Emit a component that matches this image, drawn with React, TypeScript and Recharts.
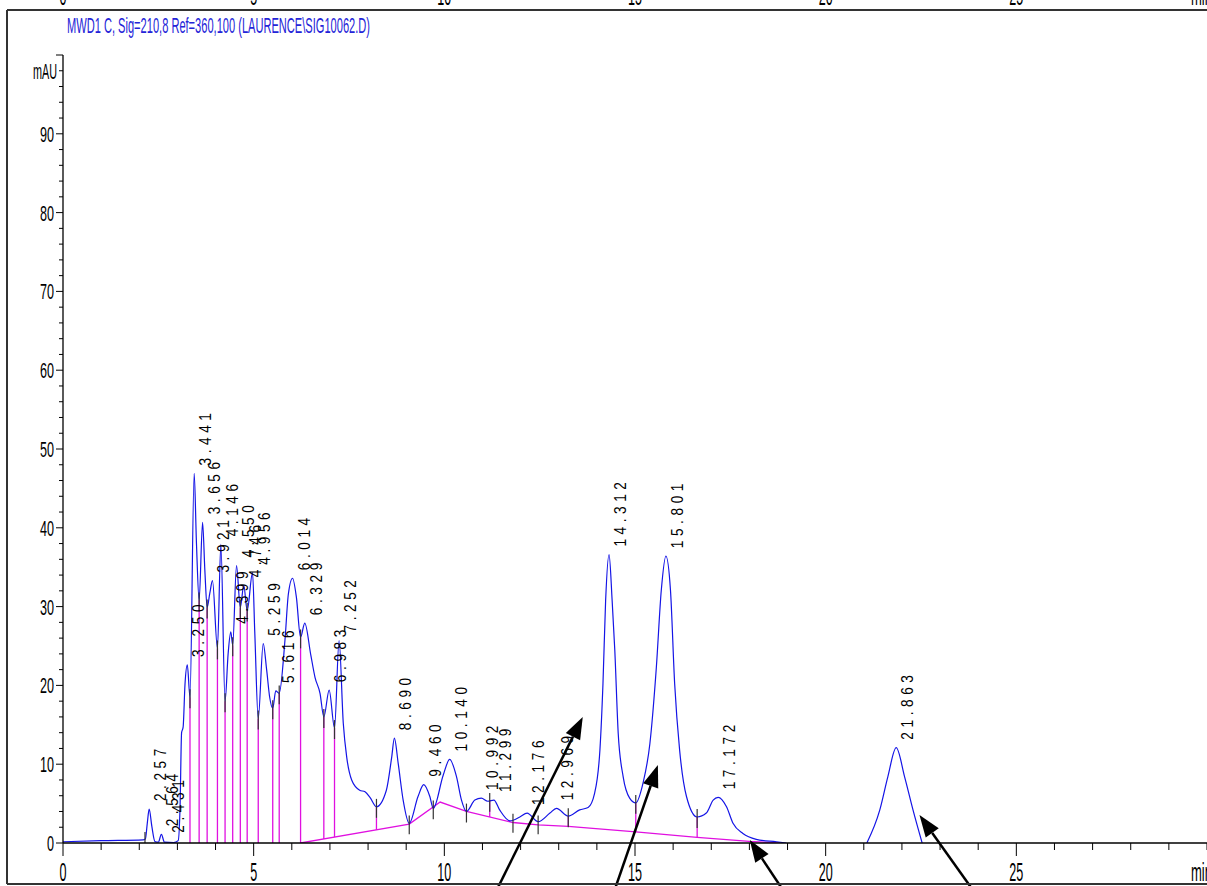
import React from "react";
import {
  ComposedChart,
  Line,
  Scatter,
  XAxis,
  YAxis,
  ReferenceLine,
} from "recharts";

// retention time (min) and detector signal (mAU)
const TIME = [
  0, 1.0, 2.1, 2.16, 2.21, 2.26, 2.33, 2.41, 2.5, 2.58, 2.66, 2.9, 3.02, 3.07,
  3.11, 3.15, 3.2, 3.26, 3.33, 3.44, 3.5, 3.57, 3.66, 3.72, 3.78, 3.85, 3.92,
  4.05, 4.14, 4.25, 4.33, 4.4, 4.45, 4.55, 4.65, 4.74, 4.83, 4.97, 5.03, 5.12,
  5.25, 5.34, 5.42, 5.5, 5.58, 5.67, 5.82, 5.91, 6.02, 6.12, 6.23, 6.34, 6.5,
  6.61, 6.74, 6.84, 6.98, 7.12, 7.24, 7.35, 7.44, 7.57, 7.78, 7.92, 8.05, 8.22,
  8.48, 8.62, 8.69, 8.79, 8.92, 9.08, 9.31, 9.46, 9.62, 9.71, 9.97, 10.14,
  10.32, 10.45, 10.58, 10.8, 10.97, 11.14, 11.3, 11.45, 11.72, 11.98, 12.17,
  12.46, 12.77, 12.94, 13.25, 13.55, 13.77, 13.94, 14.08, 14.16, 14.23, 14.32,
  14.4, 14.47, 14.56, 14.69, 14.86, 15.02, 15.21, 15.39, 15.56, 15.69, 15.81,
  15.93, 16.04, 16.17, 16.35, 16.63, 16.87, 17.05, 17.18, 17.4, 17.57, 17.83,
  18.18, 18.71, 18.97, 20.0, 21.08, 21.42, 21.63, 21.85, 22.07, 22.29, 22.53,
];
const SIGNAL = [
  0.16, 0.3, 0.4, 0.5, 2.5, 4.3, 2.1, 0.2, 0.1, 1.1, 0.1, 0.05, 0.3, 4.6,
  14.0, 14.7, 20.2, 22.6, 18.5, 46.9, 38.0, 30.8, 40.7, 34.6, 29.9, 31.7, 33.3,
  24.7, 37.9, 18.0, 24.0, 26.8, 25.1, 35.2, 29.9, 32.7, 29.5, 34.3, 26.6, 15.8,
  25.3, 22.0, 18.5, 17.1, 19.3, 19.0, 25.7, 31.6, 33.6, 31.2, 26.1, 27.9, 23.8,
  21.0, 19.0, 16.0, 19.4, 14.6, 25.7, 15.2, 10.9, 8.0, 6.7, 6.5, 5.8, 4.6,
  6.7, 10.9, 13.3, 10.1, 5.45, 2.5, 5.9, 7.4, 5.9, 4.4, 8.6, 10.6,
  8.4, 5.45, 4.0, 5.45, 5.7, 5.3, 5.45, 4.2, 2.8, 3.3, 3.8,
  2.7, 3.8, 4.4, 3.4, 4.2, 4.5, 6.3, 11.8, 20.2, 30.8, 36.6,
  30.8, 24.5, 13.9, 8.4, 5.7, 5.1, 7.6, 12.6, 22.3, 32.1, 36.4,
  32.1, 20.2, 11.8, 5.9, 3.3, 3.8, 5.45, 5.8, 4.6, 2.5, 1.2,
  0.47, 0.16, 0, null, 0, 4.2, 8.4, 12.1, 8.4, 4.2, 0,
];

// integrated peaks: retention time, apex height, printed label
const PEAK_TIMES = [
  2.26, 2.58, 2.73, 3.26, 3.44, 3.66, 3.92, 4.14, 4.4, 4.55, 4.74, 4.97, 5.25,
  5.6, 6.02, 6.34, 6.98, 7.24, 8.69, 9.46, 10.14, 10.97, 11.3, 12.17, 12.94,
  14.32, 15.81, 17.18, 21.85,
];
const PEAK_HEIGHTS = [
  4.3, 1.1, 0.3, 22.6, 46.9, 40.7, 33.3, 37.9, 26.8, 35.2, 32.7, 34.3, 25.3,
  19.3, 33.6, 27.9, 19.4, 25.7, 13.3, 7.4, 10.6, 5.7, 5.45, 3.8, 4.4,
  36.6, 36.4, 5.8, 12.1,
];
const PEAK_NAMES = [
  "2.257", "2.564", "2.431", "3.250", "3.441", "3.656", "3.921", "4.146",
  "4.399", "4.550", "4.746", "4.956", "5.259", "5.616", "6.014", "6.329",
  "6.983", "7.252", "8.690", "9.460", "10.140", "10.992", "11.299", "12.176",
  "12.969", "14.312", "15.801", "17.172", "21.863",
];

// integration baseline
const BASE_TIMES = [6.23, 9.08, 9.89, 10.58, 11.8, 12.46, 13.25, 15.02, 16.63, 18.0, 18.8];
const BASE_VALUES = [0, 2.4, 5.2, 4.0, 2.6, 2.3, 2.1, 1.4, 0.72, 0.2, 0];

// drop lines between peaks
const DROP_TIMES = [3.33, 3.57, 3.78, 4.05, 4.25, 4.45, 4.65, 4.83, 5.12, 5.5, 5.67, 6.23, 6.84, 7.12, 8.22, 11.19, 13.25, 15.02, 16.63];
const DROP_TOPS = [18.5, 30.8, 29.9, 24.7, 18.0, 25.1, 29.9, 29.5, 15.8, 17.1, 19.0, 26.1, 16.0, 14.6, 4.6, 5.35, 3.4, 5.1, 3.3];
const DROP_BASES = [0, 0, 0, 0, 0, 0, 0, 0, 0, 0, 0, 0, 0.51, 0.75, 1.67, 3.3, 2.1, 1.4, 0.72];

// peak start / end event marks
const MARK_TIMES = [2.15, ...DROP_TIMES, 9.08, 9.71, 10.58, 11.8, 12.46];
const MARK_VALUES = [0.4, ...DROP_TOPS, 2.5, 4.4, 4.0, 2.7, 2.5];

// hand drawn arrows (tail -> head)
const ARROW_FROM_T = [11.38, 14.47, 18.87, 23.85];
const ARROW_FROM_V = [-5.9, -5.9, -5.9, -5.9];
const ARROW_TO_T = [13.63, 15.6, 18.01, 22.46];
const ARROW_TO_V = [16.0, 9.9, 0.38, 3.55];

// axis labels of the chart above, cut off by the page top
const TOP_LABEL_TIMES = [0, 5, 10, 15, 20, 25, 30];

const X_TICKS = Array.from({ length: 31 }, (_, i) => i);
const Y_TICKS = Array.from({ length: 51 }, (_, i) => i * 2);

const signalData = TIME.map((t, i) => ({ t, v: SIGNAL[i] }));
const baseData = BASE_TIMES.map((t, i) => ({ t, v: BASE_VALUES[i] }));
const labelData = PEAK_TIMES.map((t, i) => ({ t, v: PEAK_HEIGHTS[i], name: PEAK_NAMES[i] }));

const FONT = "'Liberation Sans', Arial, sans-serif";
const BLUE = "#1414e6";
const MAGENTA = "#e010e0";

const PLOT_LEFT = 63;
const PLOT_WIDTH = 1144;

const YTick = (props: any) => {
  const { x, y, payload } = props;
  const v = payload.value;
  const major = v % 10 === 0;
  const s = String(v);
  const len = s.length * 7;
  return (
    <g>
      <line x1={x - (major ? 7 : 4)} x2={x} y1={y} y2={y} stroke="#000" />
      {major && v < 100 && (
        <text x={x - 9 - len} y={y + 8} fontSize={22} fontFamily={FONT} textLength={len} lengthAdjust="spacingAndGlyphs" fill="#000">
          {s}
        </text>
      )}
      {v === 98 && (
        <text x={x - 30} y={y + 8} fontSize={22} fontFamily={FONT} textLength={24} lengthAdjust="spacingAndGlyphs" fill="#000">
          mAU
        </text>
      )}
    </g>
  );
};

const XTick = (props: any) => {
  const { x, y, payload } = props;
  const v = payload.value;
  const major = v % 5 === 0 && v < 30;
  const s = String(v);
  const len = s.length * 7;
  return (
    <g>
      <line x1={x} x2={x} y1={y} y2={y + (major ? 13 : 7)} stroke="#000" />
      {major && (
        <text x={x - len / 2} y={y + 38} fontSize={25} fontFamily={FONT} textLength={len} lengthAdjust="spacingAndGlyphs" fill="#000">
          {s}
        </text>
      )}
      {v === 30 && (
        <text x={x - 16} y={y + 38} fontSize={25} fontFamily={FONT} textLength={21} lengthAdjust="spacingAndGlyphs" fill="#000">
          min
        </text>
      )}
    </g>
  );
};

const PeakLabel = (props: any) => {
  const { cx, cy, payload } = props;
  return (
    <text
      transform={`translate(${cx + 17},${cy - 8}) rotate(-90) scale(0.85,1)`}
      fontSize={16}
      fontFamily={FONT}
      letterSpacing={5.4}
      fill="#000"
    >
      {payload.name}
    </text>
  );
};

const Arrow = (p: any) => {
  const { x1, y1, x2, y2 } = p;
  const a = Math.atan2(y2 - y1, x2 - x1);
  const L = 22;
  const W = 8;
  const bx = x2 - L * Math.cos(a);
  const by = y2 - L * Math.sin(a);
  const px = -Math.sin(a) * W;
  const py = Math.cos(a) * W;
  return (
    <g>
      <line x1={x1} y1={y1} x2={bx} y2={by} stroke="#000" strokeWidth={2.5} />
      <polygon points={`${x2},${y2} ${bx + px},${by + py} ${bx - px},${by - py}`} fill="#000" />
    </g>
  );
};

export default function App() {
  return (
    <div style={{ position: "fixed", left: 0, top: 0, width: 1207, height: 886, background: "#fff", overflow: "hidden" }}>
      <ComposedChart width={1207} height={886} margin={{ top: 55, right: 0, bottom: 0, left: 0 }}>
        <XAxis
          type="number"
          dataKey="t"
          domain={[0, 30]}
          ticks={X_TICKS}
          interval={0}
          height={43}
          tickSize={0}
          tickMargin={0}
          tickLine={false}
          tick={<XTick />}
          axisLine={{ stroke: "#000", strokeWidth: 1.3 }}
          allowDataOverflow
        />
        <YAxis
          type="number"
          domain={[0, 100]}
          ticks={Y_TICKS}
          interval={0}
          width={63}
          tickSize={0}
          tickMargin={0}
          tickLine={false}
          tick={<YTick />}
          axisLine={{ stroke: "#000", strokeWidth: 1.3 }}
          allowDataOverflow
        />

        <Line data={baseData} dataKey="v" type="linear" stroke={MAGENTA} strokeWidth={1.3} dot={false} isAnimationActive={false} />

        {DROP_TIMES.map((t, i) => (
          <ReferenceLine
            key={"d" + i}
            segment={[{ x: t, y: DROP_BASES[i] }, { x: t, y: DROP_TOPS[i] }]}
            stroke={MAGENTA}
            strokeWidth={1.3}
            ifOverflow="visible"
          />
        ))}

        <Line data={signalData} dataKey="v" type="monotone" stroke={BLUE} strokeWidth={1.2} dot={false} connectNulls={false} isAnimationActive={false} />

        {MARK_TIMES.map((t, i) => (
          <ReferenceLine
            key={"m" + i}
            segment={[{ x: t, y: Math.max(0, MARK_VALUES[i] - 1.4) }, { x: t, y: MARK_VALUES[i] + 1.0 }]}
            stroke="#333"
            strokeWidth={1.2}
            ifOverflow="visible"
          />
        ))}

        <Scatter data={labelData} dataKey="v" shape={<PeakLabel />} isAnimationActive={false} />

        {ARROW_TO_T.map((t, i) => (
          <ReferenceLine
            key={"a" + i}
            segment={[{ x: ARROW_FROM_T[i], y: ARROW_FROM_V[i] }, { x: t, y: ARROW_TO_V[i] }]}
            ifOverflow="visible"
            shape={<Arrow />}
          />
        ))}
      </ComposedChart>

      <svg width={1207} height={886} style={{ position: "absolute", left: 0, top: 0, pointerEvents: "none" }}>
        {TOP_LABEL_TIMES.map((t) => {
          const x = PLOT_LEFT + (t / 30) * PLOT_WIDTH;
          const s = t === 30 ? "min" : String(t);
          const len = t === 30 ? 21 : s.length * 7;
          const left = t === 30 ? x - 16 : x - len / 2;
          return (
            <text key={t} x={left} y={5} fontSize={25} fontFamily={FONT} textLength={len} lengthAdjust="spacingAndGlyphs" fill="#000">
              {s}
            </text>
          );
        })}
        <line x1={7} y1={10} x2={1207} y2={10} stroke="#333" strokeWidth={2} />
        <line x1={7} y1={10} x2={7} y2={884} stroke="#333" strokeWidth={2} />
        <line x1={7} y1={884} x2={1207} y2={884} stroke="#333" strokeWidth={2} />
        <text x={67} y={33} fontSize={22} fontFamily={FONT} fill="#2424d8" textLength={303} lengthAdjust="spacingAndGlyphs">
          MWD1 C, Sig=210,8 Ref=360,100 (LAURENCE\SIG10062.D)
        </text>
      </svg>
    </div>
  );
}
